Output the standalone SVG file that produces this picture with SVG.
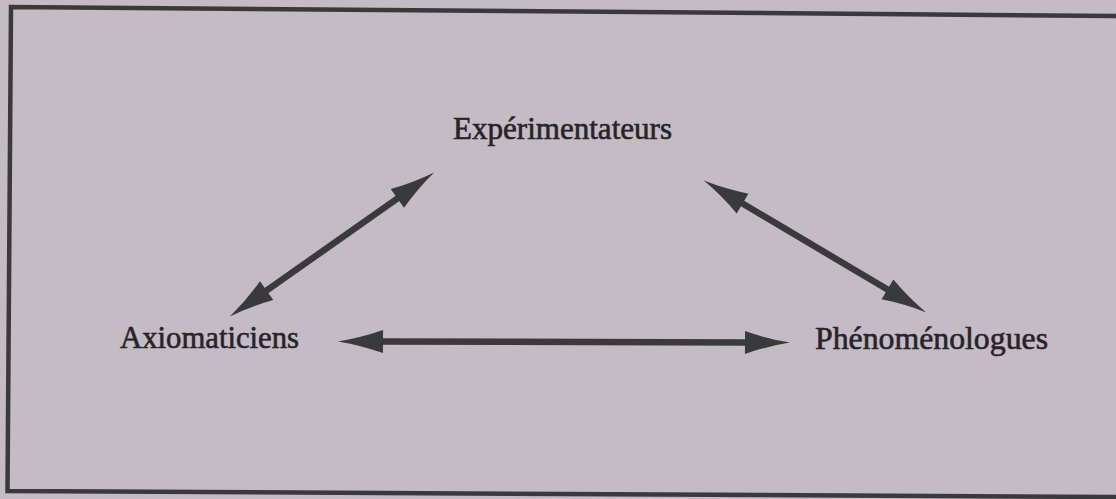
<svg xmlns="http://www.w3.org/2000/svg" width="1116" height="499" viewBox="0 0 1116 499">
  <style>
    .lbl { font-family: "Liberation Serif", "Times New Roman", serif; font-size: 31px; fill: #262427; stroke: #262427; stroke-width: 0.6px; }
    .frame { fill: none; stroke: #3a393b; stroke-width: 4.5; stroke-linejoin: miter; }
    .arrow { fill: none; stroke: #3a393b; stroke-width: 6.5; stroke-linecap: butt; marker-start: url(#head); marker-end: url(#head); }
  </style>
  <defs>
    <marker id="head" markerUnits="userSpaceOnUse" markerWidth="50" markerHeight="26" refX="2" refY="11.5" orient="auto-start-reverse" viewBox="0 0 50 26" overflow="visible">
      <path d="M0,0 Q22,7.8 45,11.5 Q22,15.2 0,23 Z" fill="#3a393b"/>
    </marker>
  </defs>
  <rect x="0" y="0" width="1116" height="499" fill="#c4bbc5"/>
  <path class="frame" d="M1120,16 L11,7 L7.5,491 L1120,497"/>
  <g id="connectors">
    <line class="arrow" x1="265" y1="291.7" x2="399" y2="197.3"/>
    <line class="arrow" x1="740.8" y1="202.5" x2="889.2" y2="290.5"/>
    <line class="arrow" x1="381" y1="341.5" x2="747" y2="342.5"/>
  </g>
  <g id="experimentateurs">
    <text class="lbl" x="453" y="139" textLength="219" lengthAdjust="spacingAndGlyphs">Expérimentateurs</text>
  </g>
  <g id="axiomaticiens">
    <text class="lbl" x="120" y="348" textLength="179" lengthAdjust="spacingAndGlyphs">Axiomaticiens</text>
  </g>
  <g id="phenomenologues">
    <text class="lbl" x="815" y="349" textLength="233" lengthAdjust="spacingAndGlyphs">Phénoménologues</text>
  </g>
</svg>
